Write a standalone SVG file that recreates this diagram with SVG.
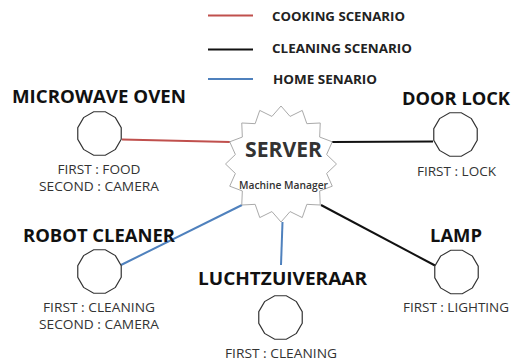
<svg xmlns="http://www.w3.org/2000/svg" xmlns:xlink="http://www.w3.org/1999/xlink" width="513" height="361" viewBox="0 0 513 361">
<style>
.title{font-family:"Open Sans","Liberation Sans",sans-serif;font-weight:bold;font-size:17px;fill:#111;}
.sub{font-family:"Open Sans","Liberation Sans",sans-serif;font-size:12.5px;fill:#333;text-anchor:middle;}
.leg{font-family:"Open Sans","Liberation Sans",sans-serif;font-weight:bold;font-size:12px;fill:#222;}
.node{fill:#fff;stroke:#333;stroke-width:1.2;}
.cook{stroke:#c0504d;stroke-width:2;fill:none;}
.clean{stroke:#111;stroke-width:2;fill:none;}
.home{stroke:#4f81bd;stroke-width:2;fill:none;}
</style>
<defs>
<polygon id="dodec" points="21.73,5.82 15.91,15.91 5.82,21.73 -5.82,21.73 -15.91,15.91 -21.73,5.82 -21.73,-5.82 -15.91,-15.91 -5.82,-21.73 5.82,-21.73 15.91,-15.91 21.73,-5.82"/>
</defs>
<rect width="513" height="361" fill="#fff"/>
<g id="legend">
<line class="cook" x1="208" y1="15.5" x2="253" y2="15.5"/>
<line class="clean" x1="208" y1="49.5" x2="253" y2="49.5"/>
<line class="home" x1="208" y1="79" x2="253" y2="79"/>
<text class="leg" x="272" y="20.5" textLength="133" lengthAdjust="spacingAndGlyphs">COOKING SCENARIO</text>
<text class="leg" x="272" y="52.5" textLength="140" lengthAdjust="spacingAndGlyphs">CLEANING SCENARIO</text>
<text class="leg" x="273" y="84" textLength="104" lengthAdjust="spacingAndGlyphs">HOME SENARIO</text>
</g>
<g id="connectors">
<line class="cook" x1="122" y1="139.5" x2="230" y2="142"/>
<line class="clean" x1="332" y1="142" x2="433" y2="141.5"/>
<line class="home" x1="121" y1="265" x2="242" y2="205"/>
<line class="home" x1="282.5" y1="222" x2="281" y2="265"/>
<line class="clean" x1="321" y1="205" x2="435" y2="265.5"/>
</g>
<g id="server">
<polygon fill="#fff" stroke="#aaa" stroke-width="1" points="336.5,164 326.61,173.46 332.28,186.2 319.66,190.95 320.24,205.01 306.84,204.33 302.24,217.59 290.07,211.57 281,222 271.93,211.57 259.76,217.59 255.16,204.33 241.76,205.01 242.34,190.95 229.72,186.2 235.39,173.46 225.5,164 235.39,154.54 229.72,141.8 242.34,137.05 241.76,122.99 255.16,123.67 259.76,110.41 271.93,116.43 281,106 290.07,116.43 302.24,110.41 306.84,123.67 320.24,122.99 319.66,137.05 332.28,141.8 326.61,154.54"/>
<text x="283.5" y="157" font-family="Open Sans, Liberation Sans, sans-serif" font-weight="bold" font-size="21" fill="#333" text-anchor="middle" textLength="77" lengthAdjust="spacingAndGlyphs">SERVER</text>
<text x="283.5" y="189" font-family="Open Sans, Liberation Sans, sans-serif" font-weight="600" font-size="11" fill="#333" text-anchor="middle" textLength="89" lengthAdjust="spacingAndGlyphs">Machine Manager</text>
</g>
<g id="microwave">
<use xlink:href="#dodec" class="node" x="99.5" y="133.5"/>
<text class="title" x="12" y="103" textLength="174" lengthAdjust="spacingAndGlyphs">MICROWAVE OVEN</text>
<text class="sub" x="99" y="174" textLength="83" lengthAdjust="spacingAndGlyphs">FIRST : FOOD</text>
<text class="sub" x="99" y="190.5" textLength="120" lengthAdjust="spacingAndGlyphs">SECOND : CAMERA</text>
</g>
<g id="doorlock">
<use xlink:href="#dodec" class="node" x="455.5" y="134.5"/>
<text class="title" x="402" y="105" textLength="108" lengthAdjust="spacingAndGlyphs">DOOR LOCK</text>
<text class="sub" x="456.5" y="176" textLength="79" lengthAdjust="spacingAndGlyphs">FIRST : LOCK</text>
</g>
<g id="robotcleaner">
<use xlink:href="#dodec" class="node" x="99.5" y="271.5"/>
<text class="title" x="23" y="242" textLength="152" lengthAdjust="spacingAndGlyphs">ROBOT CLEANER</text>
<text class="sub" x="99" y="312" textLength="112" lengthAdjust="spacingAndGlyphs">FIRST : CLEANING</text>
<text class="sub" x="99" y="328.5" textLength="120" lengthAdjust="spacingAndGlyphs">SECOND : CAMERA</text>
</g>
<g id="luchtzuiveraar">
<use xlink:href="#dodec" class="node" x="280.5" y="317.5"/>
<text class="title" x="198" y="285" textLength="169" lengthAdjust="spacingAndGlyphs">LUCHTZUIVERAAR</text>
<text class="sub" x="281" y="358" textLength="112" lengthAdjust="spacingAndGlyphs">FIRST : CLEANING</text>
</g>
<g id="lamp">
<use xlink:href="#dodec" class="node" x="456.5" y="272"/>
<text class="title" x="430" y="242" textLength="52" lengthAdjust="spacingAndGlyphs">LAMP</text>
<text class="sub" x="456" y="312" textLength="106" lengthAdjust="spacingAndGlyphs">FIRST : LIGHTING</text>
</g>
</svg>
